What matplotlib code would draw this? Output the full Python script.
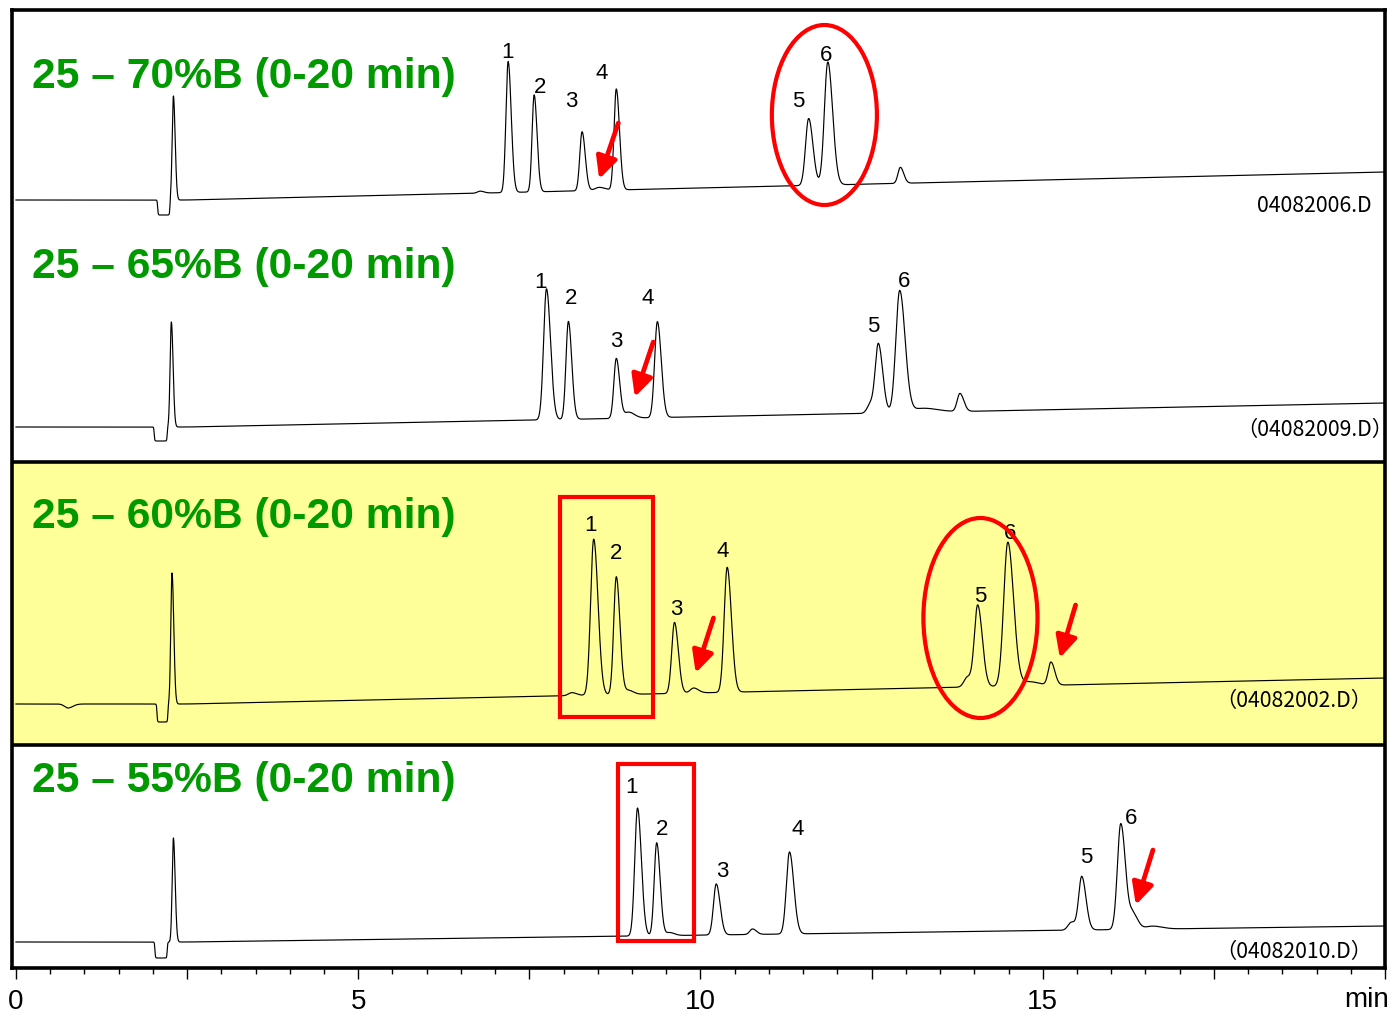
import numpy as np
import matplotlib.pyplot as plt
from matplotlib.patches import Ellipse, Rectangle, FancyArrowPatch

plt.rcParams['font.family'] = ['Liberation Sans', 'Noto Sans CJK JP', 'DejaVu Sans']

# ---- values (time in min, signal in detector units) ----
titles = ["25 – 70%B (0-20 min)", "25 – 65%B (0-20 min)",
          "25 – 60%B (0-20 min)", "25 – 55%B (0-20 min)"]
run_files = ["04082006.D", "（04082009.D）", "（04082002.D）", "（04082010.D）"]

# 25-70 %B
rt_70 = [2.30, 6.78, 7.19, 7.57, 8.27, 8.52, 8.77, 11.58, 11.86, 12.92]
h_70 = [104, 2, 131, 97, 59, 3, 101, 67, 123, 16]
w_70 = [0.018, 0.04, 0.032, 0.030, 0.033, 0.06, 0.033, 0.045, 0.05, 0.035]
dip_70 = (2.07, 2.25, 15)
drift_70 = 28

# 25-65 %B
rt_65 = [2.27, 7.75, 8.07, 8.77, 8.95, 9.37, 12.49, 12.60, 12.91, 13.25, 13.79]
h_65 = [105, 131, 98, 60, 6, 96, 10, 67, 122, 4, 18]
w_65 = [0.018, 0.042, 0.035, 0.035, 0.06, 0.04, 0.05, 0.045, 0.056, 0.15, 0.04]
dip_65 = (2.02, 2.21, 14)
drift_65 = 24

# 25-60 %B
rt_60 = [0.76, 2.28, 8.12, 8.44, 8.77, 8.95, 9.62, 9.90, 10.39, 13.90, 14.05, 14.49, 14.80, 15.12]
h_60 = [-4, 131, 3, 156, 118, 4, 71, 5, 125, 10, 81, 144, 4, 23]
w_60 = [0.05, 0.018, 0.05, 0.045, 0.038, 0.05, 0.04, 0.05, 0.044, 0.05, 0.048, 0.06, 0.1, 0.04]
dip_60 = (2.06, 2.22, 18)
drift_60 = 26

# 25-55 %B
rt_55 = [2.30, 9.08, 9.36, 9.55, 10.23, 10.76, 11.30, 15.42, 15.57, 16.14, 16.32, 16.6]
h_55 = [104, 128, 93, 3, 51, 5.5, 82, 8, 53, 106, 15, 3]
w_55 = [0.018, 0.04, 0.036, 0.05, 0.04, 0.04, 0.045, 0.05, 0.044, 0.049, 0.05, 0.1]
dip_55 = (2.03, 2.21, 16)
drift_55 = 16

# peak number labels: (time, height above baseline)
lab_t = [[7.18, 7.66, 8.11, 8.55, 11.43, 11.84],
         [7.66, 8.11, 8.77, 9.23, 12.53, 12.97],
         [8.39, 8.77, 9.65, 10.32, 14.08, 14.52],
         [8.99, 9.44, 10.32, 11.42, 15.63, 16.29]]
lab_y = [[142, 107, 93, 121, 93, 139],
         [139, 123, 80, 123, 95, 140],
         [173, 145, 89, 147, 102, 165],
         [149, 107, 65, 107, 79, 118]]

peaks = [(rt_70, h_70, w_70, dip_70, drift_70),
         (rt_65, h_65, w_65, dip_65, drift_65),
         (rt_60, h_60, w_60, dip_60, drift_60),
         (rt_55, h_55, w_55, dip_55, drift_55)]

# layout
offsets = [768, 541, 264, 26]
title_y = [112, 149, 176, 150]
file_x = [19.81, 20.12, 19.81, 19.81]
file_y = [-12, -9, -3, -16]
GREEN = '#009900'
RED = '#ff0000'


def trace(t, rt, h, w, dip, drift):
    y = drift * np.clip((t - 2.5) / 17.5, 0, 1)
    for r, a, s in zip(rt, h, w):
        sd = np.where(t < r, s, s * 1.4)
        y = y + a * np.exp(-0.5 * ((t - r) / sd) ** 2)
    t0, t1, d = dip
    y = y - d / ((1 + np.exp(-(t - t0) / 0.004)) * (1 + np.exp((t - t1) / 0.004)))
    return y


fig = plt.figure(figsize=(13.95, 10.14), dpi=100)
ax = fig.add_axes([12 / 1395, 46 / 1014, 1373 / 1395, 958 / 1014])
ax.set_xlim(-0.058, 20.0)
ax.set_ylim(0, 958)

# highlighted run
ax.axhspan(223, 506, color='#ffff99', zorder=0)
ax.axhline(506, color='black', lw=2.6, zorder=5)
ax.axhline(223, color='black', lw=2.6, zorder=5)

t = np.linspace(0, 20, 6001)
for i, (rt, h, w, dip, drift) in enumerate(peaks):
    off = offsets[i]
    ax.plot(t, off + trace(t, rt, h, w, dip, drift), color='black', lw=0.85, zorder=3)
    ax.text(0.23, off + title_y[i], titles[i], color=GREEN, fontsize=30.7,
            fontweight='bold', ha='left', va='baseline', zorder=4)
    for k, (lt, ly) in enumerate(zip(lab_t[i], lab_y[i])):
        ax.text(lt, off + ly, str(k + 1), fontsize=16, ha='center', va='baseline', zorder=4)
    ax.text(file_x[i], off + file_y[i], run_files[i], fontsize=15.3,
            family=['Noto Sans CJK JP', 'DejaVu Sans'], ha='right', va='baseline', zorder=4)


def arrow(t0, y0, t1, y1):
    ax.add_patch(FancyArrowPatch((t0, y0), (t1, y1), arrowstyle='-|>,head_length=0.65,head_width=0.32',
                                 mutation_scale=20, lw=3.4, color=RED, shrinkA=0, shrinkB=0, zorder=6))


# red highlights
ax.add_patch(Ellipse((11.81, 768 + 85), 1.535, 180, fill=False, ec=RED, lw=3, zorder=6))
arrow(8.80, 768 + 77, 8.52, 768 + 21)
arrow(9.31, 541 + 85, 9.04, 541 + 30)
ax.add_patch(Rectangle((7.95, 264 - 13), 1.35, 220, fill=False, ec=RED, lw=3, zorder=6))
arrow(10.19, 264 + 86, 9.93, 264 + 31)
ax.add_patch(Ellipse((14.09, 264 + 86), 1.667, 200, fill=False, ec=RED, lw=3, zorder=6))
arrow(15.48, 264 + 99, 15.25, 264 + 46)
ax.add_patch(Rectangle((8.79, 26 + 1), 1.11, 177, fill=False, ec=RED, lw=3, zorder=6))
arrow(16.61, 26 + 92, 16.36, 26 + 37)

# axis
for s in ax.spines.values():
    s.set_linewidth(2.6)
    s.set_zorder(7)
ax.set_yticks([])
ax.set_xticks(np.arange(0, 20.01, 2.5))
ax.set_xticklabels(['0', '', '5', '', '10', '', '15', '', ''])
ax.set_xticks(np.arange(0, 20.01, 0.5), minor=True)
ax.tick_params(axis='x', which='major', length=8, width=1, direction='out', labelsize=20, pad=7)
ax.tick_params(axis='x', which='minor', length=4, width=1, direction='out')
ax.annotate('min', xy=(20, 0), xycoords=('data', 'axes fraction'), xytext=(4, -39),
            textcoords='offset pixels', fontsize=20, ha='right', va='baseline')

fig.savefig('out.png', dpi=100)
